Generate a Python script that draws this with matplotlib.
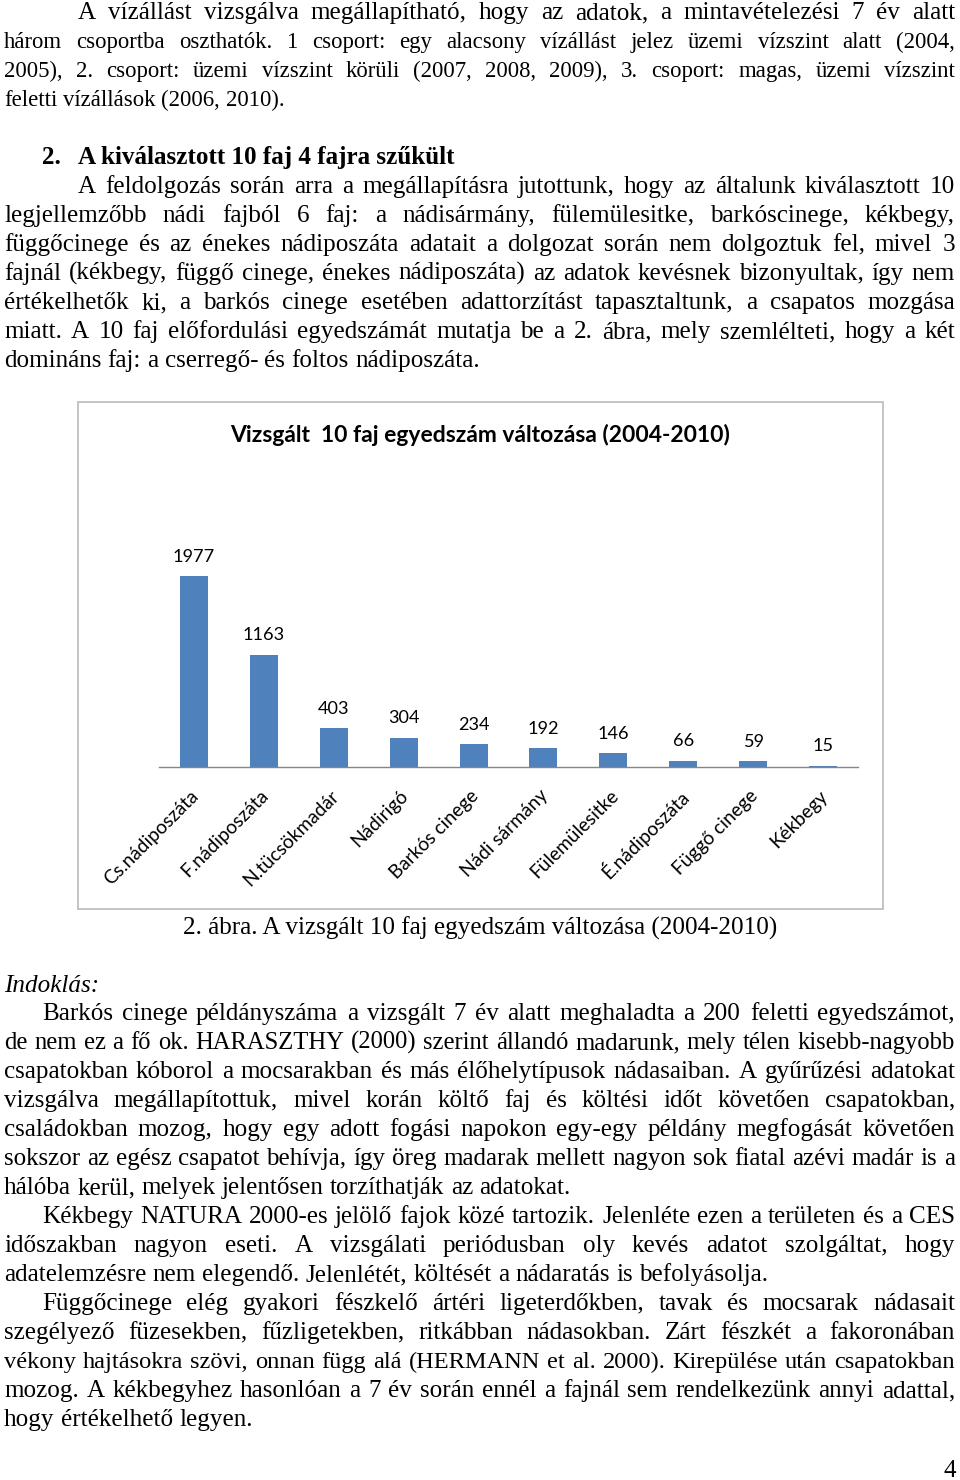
import matplotlib
matplotlib.use("Agg")
import matplotlib.pyplot as plt
from matplotlib.patches import Rectangle
from matplotlib import transforms

# ---------------- data ----------------
species = ["Cs.nádiposzáta", "F.nádiposzáta", "N.tücsökmadár", "Nádirigó",
           "Barkós cinege", "Nádi sármány", "Fülemülesitke", "É.nádiposzáta",
           "Függő cinege", "Kékbegy"]
counts = [1977, 1163, 403, 304, 234, 192, 146, 66, 59, 15]
chart_title = "Vizsgált  10 faj egyedszám változása (2004-2010)"
caption = "2. ábra. A vizsgált 10 faj egyedszám változása (2004-2010)"

para1 = ["A vízállást vizsgálva megállapítható, hogy az adatok, a mintavételezési 7 év alatt",
         "három csoportba oszthatók. 1 csoport: egy alacsony vízállást jelez üzemi vízszint alatt (2004,",
         "2005), 2. csoport: üzemi vízszint körüli (2007, 2008, 2009), 3. csoport: magas, üzemi vízszint",
         "feletti vízállások (2006, 2010)."]
heading_num = "2."
heading = "A kiválasztott 10 faj 4 fajra szűkült"
para2 = ["A feldolgozás során arra a megállapításra jutottunk, hogy az általunk kiválasztott 10",
         "legjellemzőbb nádi fajból 6 faj: a nádisármány, fülemülesitke, barkóscinege, kékbegy,",
         "függőcinege és az énekes nádiposzáta adatait a dolgozat során nem dolgoztuk fel, mivel 3",
         "fajnál (kékbegy, függő cinege, énekes nádiposzáta) az adatok kevésnek bizonyultak, így nem",
         "értékelhetők ki, a barkós cinege esetében adattorzítást tapasztaltunk, a csapatos mozgása",
         "miatt. A 10 faj előfordulási egyedszámát mutatja be a 2. ábra, mely szemlélteti, hogy a két",
         "domináns faj: a cserregő- és foltos nádiposzáta."]
indoklas = "Indoklás:"
para3 = ["Barkós cinege példányszáma a vizsgált 7 év alatt meghaladta a 200 feletti egyedszámot,",
         "de nem ez a fő ok. HARASZTHY (2000) szerint állandó madarunk, mely télen kisebb-nagyobb",
         "csapatokban kóborol a mocsarakban és más élőhelytípusok nádasaiban. A gyűrűzési adatokat",
         "vizsgálva megállapítottuk, mivel korán költő faj és költési időt követően csapatokban,",
         "családokban mozog, hogy egy adott fogási napokon egy-egy példány megfogását követően",
         "sokszor az egész csapatot behívja, így öreg madarak mellett nagyon sok fiatal azévi madár is a",
         "hálóba kerül, melyek jelentősen torzíthatják az adatokat."]
para4 = ["Kékbegy NATURA 2000-es jelölő fajok közé tartozik. Jelenléte ezen a területen és a CES",
         "időszakban nagyon eseti. A vizsgálati periódusban oly kevés adatot szolgáltat, hogy",
         "adatelemzésre nem elegendő. Jelenlétét, költését a nádaratás is befolyásolja."]
para5 = ["Függőcinege elég gyakori fészkelő ártéri ligeterdőkben, tavak és mocsarak nádasait",
         "szegélyező füzesekben, fűzligetekben, ritkábban nádasokban. Zárt fészkét a fakoronában",
         "vékony hajtásokra szövi, onnan függ alá (HERMANN et al. 2000). Kirepülése után csapatokban",
         "mozog. A kékbegyhez hasonlóan a 7 év során ennél a fajnál sem rendelkezünk annyi adattal,",
         "hogy értékelhető legyen."]
page_no = "4"

# ---------------- figure ----------------
W, H = 960, 1480
fig = plt.figure(figsize=(W / 100, H / 100), dpi=100)
fig.patch.set_facecolor("white")
renderer = fig.canvas.get_renderer()

SERIF = "Liberation Serif"
SANS = "Lato"


def fx(x):
    return x / W


def fy(y):
    return 1 - y / H


def measure(s, size, family, weight="normal", style="normal"):
    t = fig.text(0, 0, s, fontsize=size, family=family, weight=weight, style=style)
    w = t.get_window_extent(renderer).width
    t.remove()
    return w


def fit_size(s, target_px, family, weight="normal"):
    return 10 * target_px / measure(s, 10, family, weight)


X_RIGHT = 955
FS_BODY = 18.1
FS_SMALL = 16.4


def draw_line(line, x0, y, justify, size=FS_BODY, weight="normal", style="normal"):
    words = line.split(" ")
    nat = measure(line, size, SERIF, weight, style)
    if justify and nat > (X_RIGHT - x0) * 0.99:
        size = size * (X_RIGHT - x0) * 0.99 / nat
    widths = [measure(w, size, SERIF, weight, style) for w in words]
    sp = measure("x x", size, SERIF) - measure("xx", size, SERIF)
    if justify and len(words) > 1:
        gap = (X_RIGHT - x0 - sum(widths)) / (len(words) - 1)
    else:
        gap = sp
    x = x0
    for w, wd in zip(words, widths):
        fig.text(fx(x), fy(y), w, fontsize=size, family=SERIF, weight=weight,
                 style=style, ha="left", va="baseline", color="black")
        x += wd + gap


def draw_para(lines, indent, y0, pitch=29, sizes=None):
    for i, ln in enumerate(lines):
        last = i == len(lines) - 1
        size = sizes[i] if sizes else FS_BODY
        draw_line(ln, indent if i == 0 else 4, y0 + i * pitch, justify=not last, size=size)


draw_para(para1, 78, 19, sizes=[FS_BODY, FS_SMALL, FS_SMALL, FS_SMALL])
fig.text(fx(42), fy(164), heading_num, fontsize=FS_BODY, family=SERIF, weight="bold",
         ha="left", va="baseline")
fig.text(fx(78), fy(164), heading, fontsize=FS_BODY, family=SERIF, weight="bold",
         ha="left", va="baseline")
draw_para(para2, 78, 193)

fig.text(fx(480), fy(935), caption, fontsize=FS_BODY, family=SERIF, ha="center", va="baseline")
fig.text(fx(4), fy(992), indoklas, fontsize=FS_BODY, family=SERIF, style="italic",
         ha="left", va="baseline")
draw_para(para3, 42, 1020)
draw_para(para4, 42, 1223)
draw_para(para5, 42, 1310)
fig.text(fx(956), fy(1477), page_no, fontsize=FS_BODY, family=SERIF, ha="right", va="baseline")

# ---------------- chart ----------------
frame = Rectangle((fx(78), fy(909)), fx(883 - 78), (909 - 402) / H,
                  transform=fig.transFigure, facecolor="white",
                  edgecolor="#BFBFBF", lw=1.3, zorder=-5)
fig.add_artist(frame)

fs_title = fit_size(chart_title, 501, SANS, "bold")
fig.text(fx(480), fy(442), chart_title, fontsize=fs_title, family=SANS, weight="bold",
         ha="center", va="baseline", color="black")

ax = fig.add_axes([fx(159), fy(767), fx(858 - 159), (767 - 500) / H])
ax.set_zorder(2)
ax.patch.set_visible(False)
x = list(range(len(species)))
ax.bar(x, counts, width=0.4, color="#4F81BD", zorder=2)
ax.set_xlim(-0.5, len(species) - 0.5)
ax.set_ylim(0, 1977 * 267 / 191)
for s in ["top", "right", "left"]:
    ax.spines[s].set_visible(False)
ax.spines["bottom"].set_color("#868686")
ax.spines["bottom"].set_linewidth(1.0)
ax.set_yticks([])
ax.set_xticks([])

fs_val = fit_size("1977", 42, SANS)
for xi, v in zip(x, counts):
    ax.annotate(str(v), (xi, v), xytext=(0, 10.3), textcoords="offset points",
                ha="center", va="baseline", fontsize=fs_val, family=SANS, color="black",
                annotation_clip=False)

fs_cat = fit_size("Nádirigó", 72, SANS)
base = ax.get_xaxis_transform()
for xi, name in zip(x, species):
    tr = transforms.offset_copy(base, fig=fig, x=2 * 0.72, y=-26 * 0.72, units="points")
    ax.text(xi, 0, name, transform=tr, rotation=45, rotation_mode="anchor",
            ha="right", va="center", fontsize=fs_cat, family=SANS, color="black",
            clip_on=False)

fig.savefig("out.png", dpi=100, facecolor="white")
